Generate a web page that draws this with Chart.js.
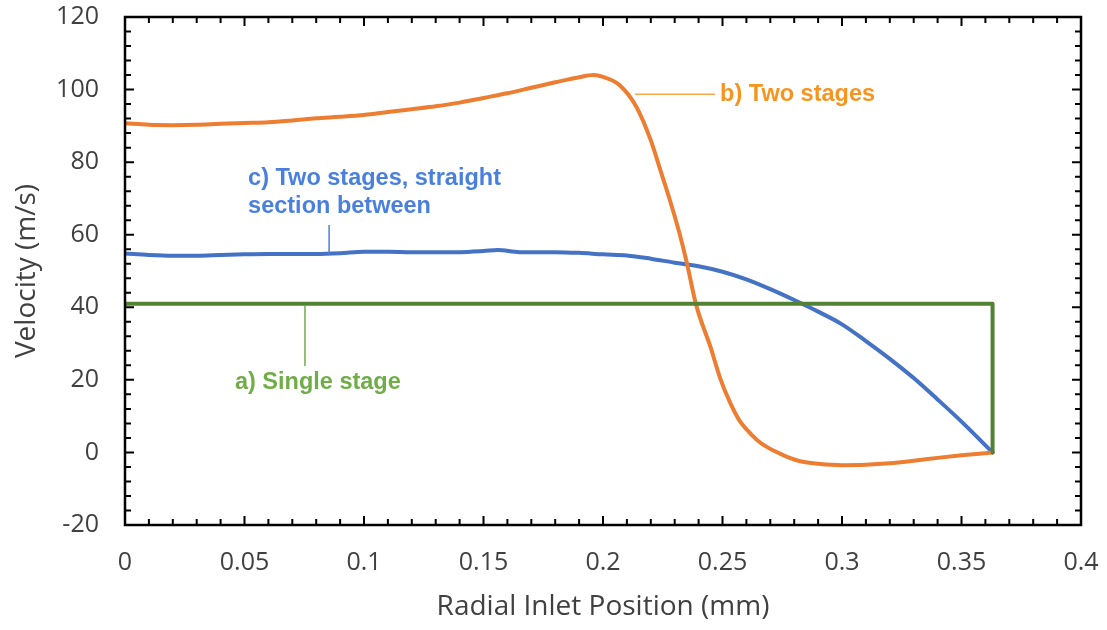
<!DOCTYPE html>
<html>
<head>
<meta charset="utf-8">
<script src="https://cdn.jsdelivr.net/npm/chart.js@4"></script>
<style>
  html, body { margin: 0; padding: 0; background: #fff; }
  #wrap { width: 1107px; height: 630px; }
</style>
</head>
<body>
<div id="wrap"><canvas id="velocity-chart"></canvas></div>
<script>
// Radial inlet velocity profiles
const singleX = [0, 0.363, 0.363];
const singleY = [41, 41, 0];

const twoStageX = [0, 0.01, 0.02, 0.03, 0.04, 0.05, 0.06, 0.07, 0.08, 0.09, 0.10, 0.11, 0.12, 0.13, 0.14,
    0.15, 0.16, 0.17, 0.18, 0.19, 0.196, 0.20, 0.207, 0.214, 0.22, 0.224, 0.228, 0.232, 0.235, 0.239,
    0.245, 0.249, 0.253, 0.257, 0.262, 0.266, 0.272, 0.277, 0.283, 0.29, 0.30, 0.31, 0.32, 0.33, 0.34,
    0.35, 0.363];
const twoStageY = [90.7, 90.3, 90.2, 90.3, 90.6, 90.8, 91.0, 91.5, 92.1, 92.5, 93.0, 93.8, 94.6, 95.4, 96.4,
    97.7, 99.0, 100.5, 102.0, 103.4, 104.0, 103.5, 101.2, 95.2, 86.0, 77.8, 69.5, 60.4, 52.5, 40.6,
    29.0, 20.5, 14.0, 8.9, 5.0, 2.6, 0.3, -1.2, -2.5, -3.1, -3.5, -3.4, -3.0, -2.3, -1.5,
    -0.8, 0];

const straightX = [0, 0.01, 0.02, 0.03, 0.04, 0.05, 0.06, 0.07, 0.08, 0.09, 0.10, 0.11, 0.12, 0.13, 0.14,
    0.15, 0.156, 0.165, 0.18, 0.19, 0.20, 0.21, 0.22, 0.23, 0.24, 0.25, 0.26, 0.27, 0.28, 0.29,
    0.30, 0.31, 0.32, 0.33, 0.34, 0.35, 0.363];
const straightY = [54.8, 54.4, 54.2, 54.2, 54.4, 54.6, 54.7, 54.7, 54.7, 54.9, 55.3, 55.3, 55.2, 55.2, 55.2,
    55.5, 55.8, 55.2, 55.2, 55.0, 54.6, 54.3, 53.4, 52.3, 51.3, 49.8, 47.7, 45.0, 42.0, 38.8,
    35.3, 30.7, 25.8, 20.5, 14.6, 8.5, 0];

const toPoints = (xs, ys) => xs.map((x, i) => ({ x: x, y: ys[i] }));

// Callout labels, anchored in data coordinates
const callouts = [
    { lines: ['b) Two stages'], color: '#F7941D', lineColor: '#F7A84A',
      textAt: [0.249, 98.7], leader: [[0.2134, 98.7], [0.2469, 98.7]] },
    { lines: ['c) Two stages, straight', 'section between'], color: '#4A80DD', lineColor: '#4A80DD',
      textAt: [0.0515, 75.6], leader: [[0.0854, 62.7], [0.0854, 54.7]] },
    { lines: ['a) Single stage'], color: '#70AD47', lineColor: '#70AD47',
      textAt: [0.046, 19.4], leader: [[0.0753, 40.6], [0.0753, 23.8]] }
];

// Box frame with inward-facing major/minor ticks on all four sides
const frameTicks = {
    id: 'frameTicks',
    afterDatasetsDraw(chart) {
        const { ctx, chartArea: a, scales: { x, y } } = chart;
        ctx.save();
        ctx.strokeStyle = '#000';
        ctx.lineWidth = 2;
        ctx.beginPath();
        for (let i = 0; i <= 40; i++) {
            const px = x.getPixelForValue(i / 100);
            const len = i % 5 === 0 ? 9 : 6;
            ctx.moveTo(px, a.bottom); ctx.lineTo(px, a.bottom - len);
            ctx.moveTo(px, a.top); ctx.lineTo(px, a.top + len);
        }
        for (let v = -20; v <= 120; v += 4) {
            const py = y.getPixelForValue(v);
            const len = v % 20 === 0 ? 9 : 6;
            ctx.moveTo(a.left, py); ctx.lineTo(a.left + len, py);
            ctx.moveTo(a.right, py); ctx.lineTo(a.right - len, py);
        }
        ctx.stroke();
        ctx.lineWidth = 2.5;
        ctx.strokeRect(a.left, a.top, a.right - a.left, a.bottom - a.top);
        ctx.restore();
    }
};

const calloutLabels = {
    id: 'calloutLabels',
    afterDatasetsDraw(chart) {
        const { ctx, scales: { x, y } } = chart;
        ctx.save();
        callouts.forEach(c => {
            ctx.strokeStyle = c.lineColor;
            ctx.lineWidth = 1.5;
            ctx.beginPath();
            ctx.moveTo(x.getPixelForValue(c.leader[0][0]), y.getPixelForValue(c.leader[0][1]));
            ctx.lineTo(x.getPixelForValue(c.leader[1][0]), y.getPixelForValue(c.leader[1][1]));
            ctx.stroke();
            ctx.fillStyle = c.color;
            ctx.font = 'bold 23.5px "Liberation Sans", Arial, sans-serif';
            ctx.textAlign = 'left';
            ctx.textBaseline = 'middle';
            const tx = x.getPixelForValue(c.textAt[0]);
            const ty = y.getPixelForValue(c.textAt[1]);
            c.lines.forEach((line, i) => ctx.fillText(line, tx, ty + i * 28));
        });
        ctx.restore();
    }
};

const tickFont = { family: '"Open Sans", sans-serif', size: 25 };
const titleFont = { family: '"Open Sans", sans-serif', size: 28 };

new Chart(document.getElementById('velocity-chart'), {
    type: 'line',
    data: {
        datasets: [
            { label: 'a) Single stage', data: toPoints(singleX, singleY), borderColor: '#548235',
              borderWidth: 4, tension: 0 },
            { label: 'b) Two stages', data: toPoints(twoStageX, twoStageY), borderColor: '#ED7D31',
              borderWidth: 4, cubicInterpolationMode: 'monotone' },
            { label: 'c) Two stages, straight section between', data: toPoints(straightX, straightY),
              borderColor: '#4472C4', borderWidth: 4, cubicInterpolationMode: 'monotone' }
        ]
    },
    options: {
        responsive: true,
        maintainAspectRatio: false,
        animation: false,
        elements: { point: { radius: 0 }, line: { borderJoinStyle: 'round', borderCapStyle: 'round' } },
        layout: { padding: { top: 17, right: 26, left: 0, bottom: 0 } },
        plugins: { legend: { display: false }, tooltip: { enabled: false } },
        scales: {
            x: {
                type: 'linear', min: 0, max: 0.4,
                grid: { display: false, drawTicks: false },
                border: { display: false },
                ticks: { stepSize: 0.05, padding: 23, color: '#404040', font: tickFont, maxRotation: 0,
                         callback: v => String(Number(v.toFixed(2))) },
                title: { display: true, text: 'Radial Inlet Position (mm)', color: '#404040',
                         font: titleFont, padding: { bottom: 6 } },
                afterFit(scale) {
                    scale.height = 105;
                    scale.paddingLeft = 0;
                    scale.paddingRight = 0;
                }
            },
            y: {
                min: -20, max: 120,
                grid: { display: false, drawTicks: false },
                border: { display: false },
                ticks: { stepSize: 20, padding: 26, color: '#404040', font: tickFont },
                title: { display: true, text: 'Velocity (m/s)', color: '#404040',
                         font: titleFont, padding: { top: 10 } },
                afterFit(scale) {
                    scale.width = 125;
                    scale.paddingTop = 0;
                    scale.paddingBottom = 0;
                }
            }
        }
    },
    plugins: [frameTicks, calloutLabels]
});
</script>
</body>
</html>
